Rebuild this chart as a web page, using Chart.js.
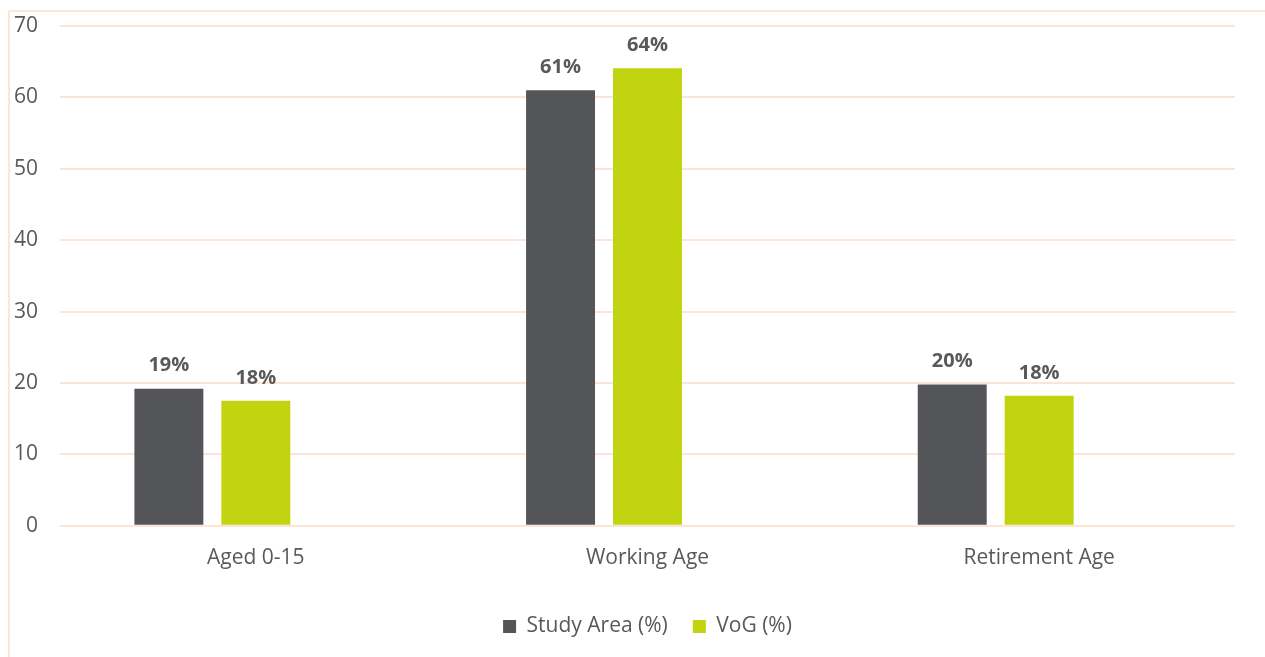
<!DOCTYPE html>
<html>
<head>
<meta charset="utf-8">
<script src="https://cdn.jsdelivr.net/npm/chart.js@4.4.1/dist/chart.umd.min.js"></script>
<style>
    html, body { margin: 0; padding: 0; background: #fff; }
    #wrap { position: relative; width: 1265px; height: 657px; overflow: hidden; }
    #frame { position: absolute; left: 8px; top: 10px; width: 1270px; height: 660px;
        border-left: 2px solid #fce6da; border-top: 2px solid #fce6da; }
    #myChart { position: absolute; left: 0; top: 0; }
</style>
</head>
<body>
<div id="wrap">
    <div id="frame"></div>
    <canvas id="myChart" width="1265" height="657"></canvas>
</div>
<script>
    const categories = ['Aged 0-15', 'Working Age', 'Retirement Age'];
    const studyArea = [19.2, 61.0, 19.8];
    const vog = [17.5, 64.1, 18.2];
    const yTicks = [0, 10, 20, 30, 40, 50, 60, 70];

    const textColor = '#595959';
    const gridColor = '#fce4d6';

    // draws the bold "19%" labels above the bars
    const barLabels = {
        id: 'barLabels',
        afterDatasetsDraw(chart) {
            const ctx = chart.ctx;
            ctx.save();
            ctx.font = 'bold 20px "Open Sans"';
            ctx.fillStyle = textColor;
            ctx.textAlign = 'center';
            ctx.textBaseline = 'bottom';
            [0, 1].forEach(function (i) {
                const meta = chart.getDatasetMeta(i);
                meta.data.forEach(function (bar, j) {
                    const v = chart.data.datasets[i].data[j];
                    ctx.fillText(Math.round(v) + '%', bar.x, bar.y - 13);
                });
            });
            ctx.restore();
        }
    };

    // center the legend under the plot area instead of the whole canvas
    const legendShift = {
        id: 'legendShift',
        afterLayout(chart) {
            const lg = chart.legend;
            const area = chart.chartArea;
            const d = (area.left + area.right) / 2 - (lg.left + lg.right) / 2;
            lg.left += d;
            lg.right += d;
        }
    };

    const ctx = document.getElementById('myChart');

    new Chart(ctx, {
        type: 'bar',
        data: {
            labels: categories,
            datasets: [{
                label: 'Study Area (%)',
                data: studyArea,
                backgroundColor: '#545559'
            }, {
                label: 'VoG (%)',
                data: vog,
                backgroundColor: '#c2d30f'
            }, {
                // empty third series, keeps the bars shifted left like the original
                label: '',
                data: [null, null, null],
                backgroundColor: 'transparent'
            }]
        },
        options: {
            responsive: false,
            animation: false,
            categoryPercentage: 0.666,
            barPercentage: 0.793,
            layout: {
                padding: { left: 0, right: 30, top: 26, bottom: 10 }
            },
            scales: {
                y: {
                    min: 0,
                    max: 70,
                    afterFit: function (scale) {
                        scale.width = 60;
                        scale.paddingTop = 0;
                        scale.paddingBottom = 0;
                    },
                    afterBuildTicks: function (scale) {
                        scale.ticks = yTicks.map(function (v) { return { value: v }; });
                    },
                    border: { display: false },
                    grid: { color: gridColor, lineWidth: 2, drawTicks: false },
                    ticks: {
                        color: textColor,
                        padding: 22,
                        font: { family: 'Open Sans', size: 21 }
                    }
                },
                x: {
                    border: { display: false },
                    grid: { display: false, drawTicks: false },
                    ticks: {
                        color: textColor,
                        padding: 20,
                        font: { family: 'Open Sans', size: 21 }
                    }
                }
            },
            plugins: {
                tooltip: { enabled: false },
                legend: {
                    position: 'bottom',
                    labels: {
                        color: textColor,
                        boxWidth: 13,
                        boxHeight: 13,
                        padding: 25,
                        font: { family: 'Open Sans', size: 21 },
                        filter: function (item) { return item.text !== ''; }
                    }
                }
            }
        },
        plugins: [barLabels, legendShift]
    });
</script>
</body>
</html>
